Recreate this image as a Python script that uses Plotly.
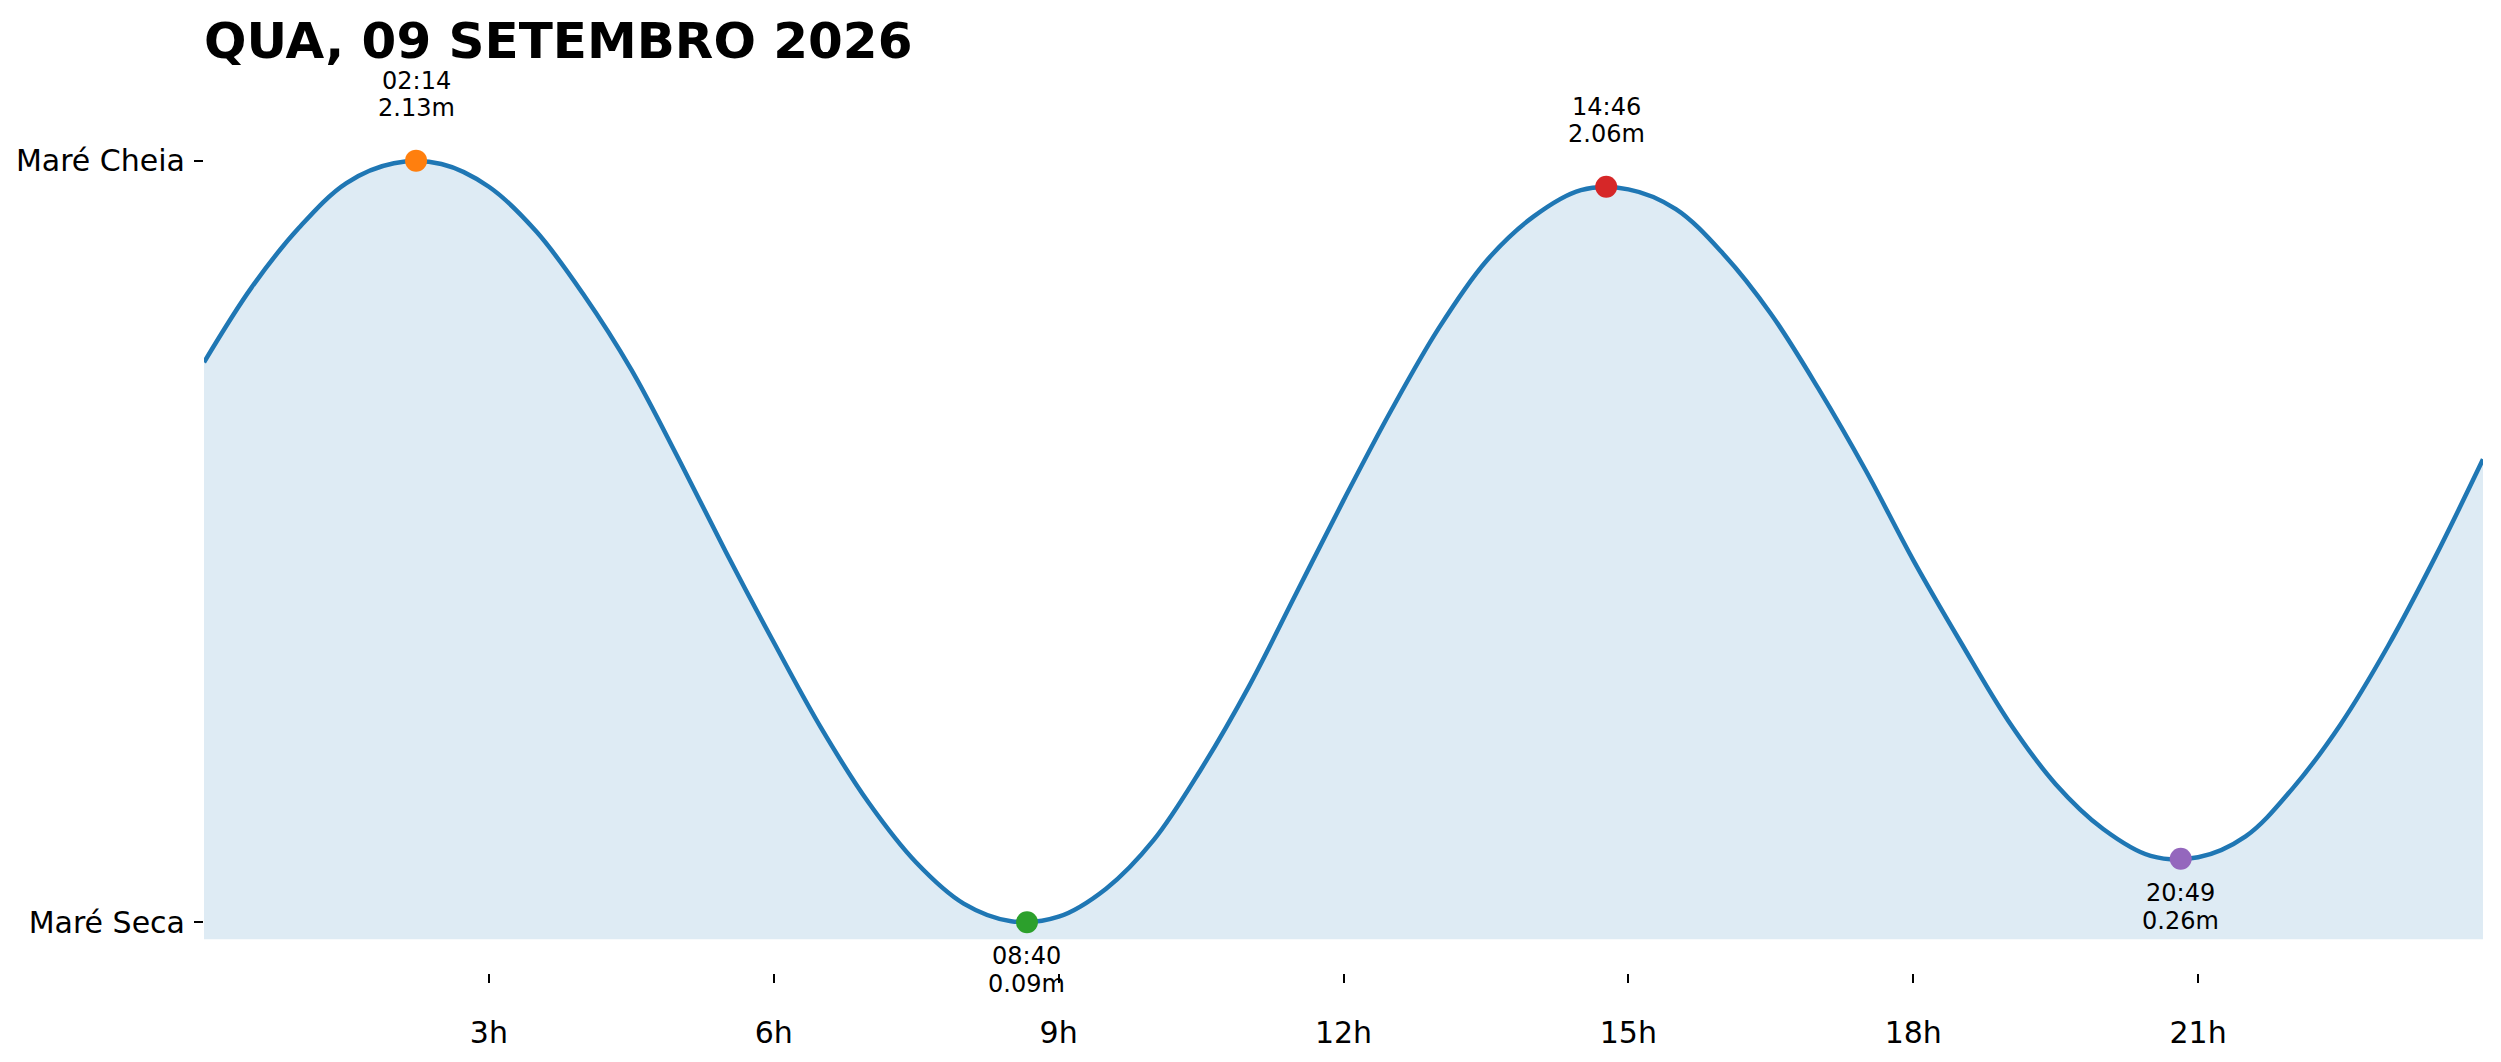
import plotly.graph_objects as go

# Tide curve (hour of day, height in metres)
curve_hours = [0, 0.5, 1, 1.5, 2, 2.5, 3, 3.5, 4, 4.5, 5, 5.5, 6, 6.5, 7, 7.5, 8, 8.5,
               9, 9.5, 10, 10.5, 11, 11.5, 12, 12.5, 13, 13.5, 14, 14.5,
               15, 15.5, 16, 16.5, 17, 17.5, 18, 18.5, 19, 19.5, 20, 20.5,
               21, 21.5, 22, 22.5, 23, 23.5, 24]
curve_heights = [1.59, 1.79, 1.95, 2.07, 2.123, 2.121, 2.06, 1.94, 1.77, 1.57, 1.33, 1.08, 0.84, 0.61, 0.41, 0.25, 0.14, 0.093,
                 0.105, 0.18, 0.31, 0.50, 0.72, 0.97, 1.22, 1.46, 1.68, 1.86, 1.98, 2.051,
                 2.053, 2.00, 1.88, 1.72, 1.52, 1.30, 1.06, 0.84, 0.63, 0.46, 0.34, 0.268,
                 0.264, 0.32, 0.45, 0.62, 0.83, 1.07, 1.33]

# High / low tides
tide_times = ["02:14", "08:40", "14:46", "20:49"]
tide_heights = [2.13, 0.09, 2.06, 0.26]
tide_kinds = ["high", "low", "high", "low"]
tide_colors = ["#ff7f0e", "#2ca02c", "#d62728", "#9467bd"]

hour_ticks = [3, 6, 9, 12, 15, 18, 21]
hour_labels = ["3h", "6h", "9h", "12h", "15h", "18h", "21h"]
level_labels = ["Maré Seca", "Maré Cheia"]

title_text = "QUA, 09 SETEMBRO 2026"


def to_hours(s):
    h, m = s.split(":")
    return int(h) + int(m) / 60


tide_hours = [to_hours(t) for t in tide_times]

font = "DejaVu Sans"

fig = go.Figure()

fig.add_trace(go.Scatter(
    x=curve_hours, y=curve_heights,
    mode="lines",
    line=dict(color="#1f77b4", width=4.5, shape="spline", smoothing=1.0),
    fill="tozeroy",
    fillcolor="rgba(31,119,180,0.15)",
    hoverinfo="skip",
    showlegend=False,
))

for t, h, c in zip(tide_hours, tide_heights, tide_colors):
    fig.add_trace(go.Scatter(
        x=[t], y=[h],
        mode="markers",
        marker=dict(color=c, size=22, line=dict(width=0)),
        cliponaxis=False,
        showlegend=False,
    ))

# time + height labels above highs, below lows
for t, label, h, kind in zip(tide_hours, tide_times, tide_heights, tide_kinds):
    if kind == "high":
        shifts = (80, 53)
    else:
        shifts = (-34, -62)
    for txt, sh in zip([label, f"{h:.2f}m"], shifts):
        fig.add_annotation(
            x=t, y=h, text=txt, showarrow=False,
            xanchor="center", yanchor="middle", yshift=sh,
            font=dict(family=font, size=24, color="black"),
        )

fig.update_layout(
    width=2501, height=1062,
    margin=dict(l=204, r=18, t=100, b=84),
    paper_bgcolor="white",
    plot_bgcolor="white",
    font=dict(family=font, color="black"),
    title=dict(
        text=f"<b>{title_text}</b>",
        x=0, xref="paper", xanchor="left",
        y=0.962, yref="container", yanchor="middle",
        font=dict(family=font, size=50, color="black"),
    ),
    xaxis=dict(
        range=[0, 24],
        anchor="free", position=0,
        tickmode="array", tickvals=hour_ticks, ticktext=hour_labels,
        ticks="outside", ticklen=9, tickwidth=2, tickcolor="black",
        ticklabelstandoff=24,
        tickfont=dict(family=font, size=30, color="black"),
        showgrid=False, zeroline=False, showline=False,
    ),
    yaxis=dict(
        domain=[34 / 878, 1],
        range=[0.0447, 2.2924],
        tickmode="array", tickvals=[min(tide_heights), max(tide_heights)],
        ticktext=level_labels,
        ticks="outside", ticklen=9, tickwidth=2, tickcolor="black",
        ticklabelstandoff=3,
        tickfont=dict(family=font, size=30, color="black"),
        showgrid=False, zeroline=False, showline=False,
    ),
)

# drop the default page margin so the figure sits at the window corner
fig.write_html(
    "out.html",
    config={"displayModeBar": False},
    post_script="document.body.style.margin='0';",
)
